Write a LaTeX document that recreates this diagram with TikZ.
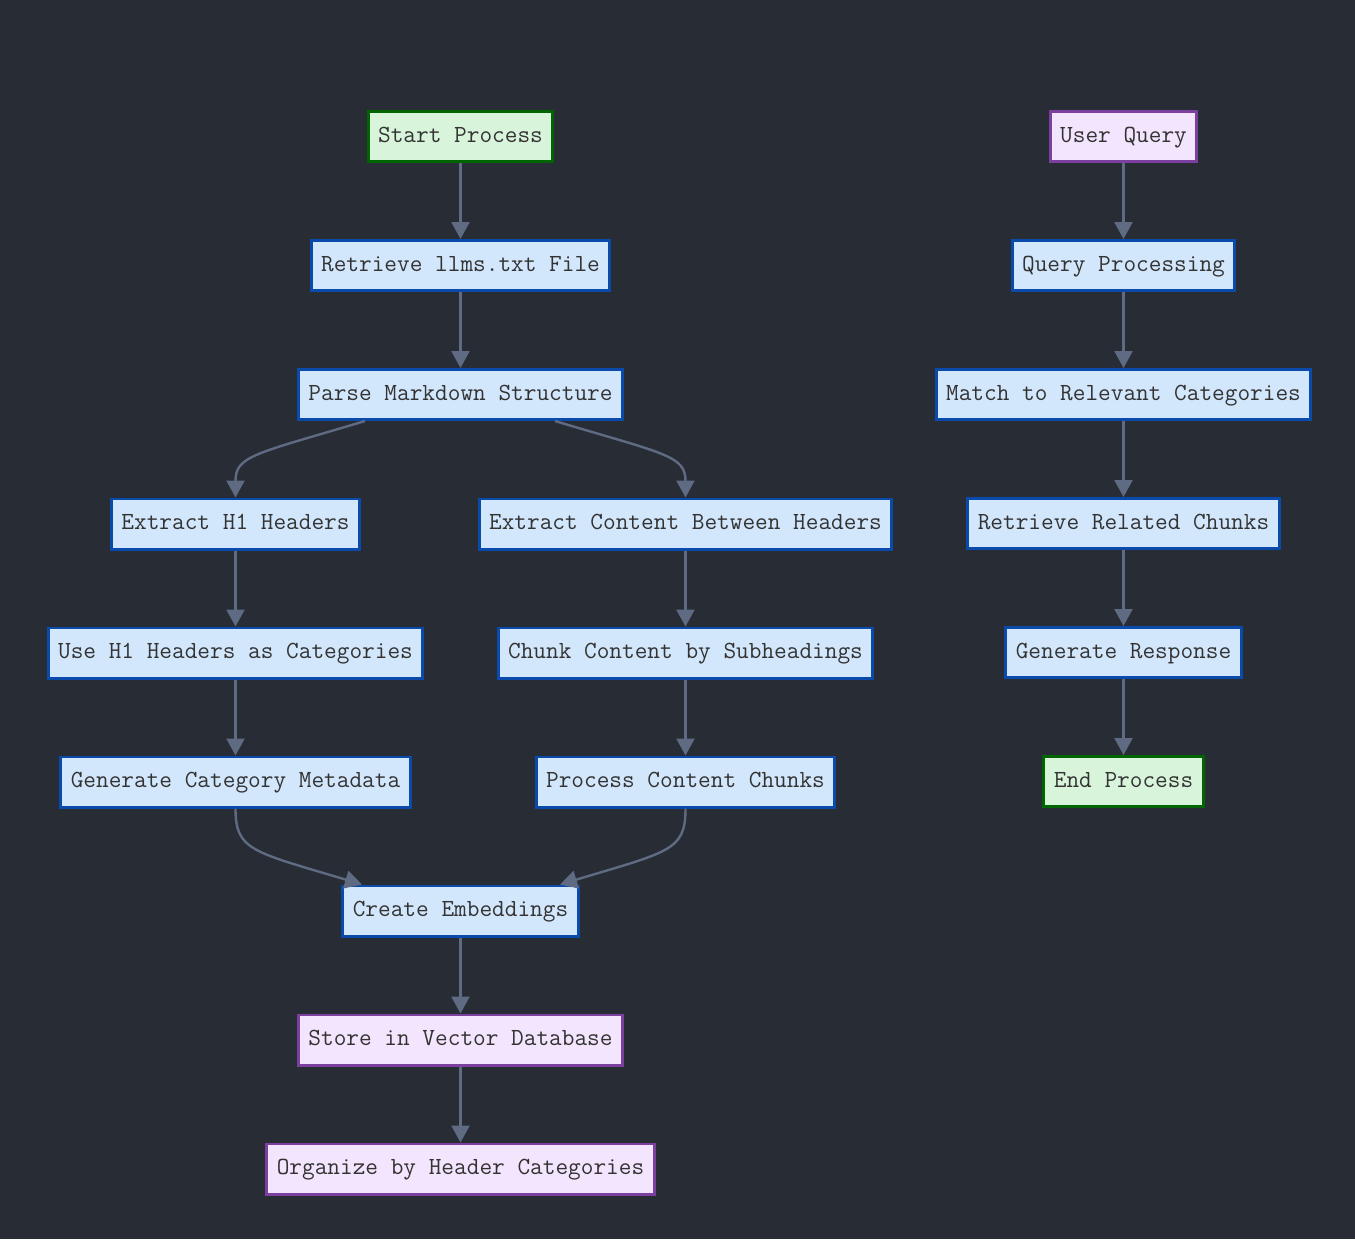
\documentclass[tikz,border=0pt]{standalone}
\usepackage{fontspec}
\usetikzlibrary{positioning,arrows.meta}
\definecolor{bgdark}{HTML}{282C34}
\definecolor{edgegray}{HTML}{5F6B82}
\definecolor{textgray}{HTML}{333333}
\definecolor{bluefill}{HTML}{D2E7FC}
\definecolor{blueline}{HTML}{0A4AAA}
\definecolor{greenfill}{HTML}{D8F5DC}
\definecolor{greenline}{HTML}{006400}
\definecolor{purplefill}{HTML}{F3E5FD}
\definecolor{purpleline}{HTML}{7B3FA0}
\tikzset{
  stepnode/.style={draw=blueline,fill=bluefill,line width=1.4pt,minimum height=25.1pt,
    inner xsep=5pt,text height=8.2pt,text depth=2.4pt,text=textgray,
    font=\ttfamily\fontsize{12.3pt}{14pt}\selectfont},
  termnode/.style={stepnode,draw=greenline,fill=greenfill},
  storenode/.style={stepnode,draw=purpleline,fill=purplefill},
  flow/.style={draw=edgegray,line width=1.2pt,-{Triangle[length=8.5pt,width=9pt]}}
}
\begin{document}
\begin{tikzpicture}[x=0.5pt,y=-0.5pt,node distance=38pt]
  \fill[bgdark] (0,0) rectangle (1355,1239);
  \node[termnode] (start) at (460.5,136.5) {Start Process};
  \node[stepnode,below=of start] (retrieve) {Retrieve llms.txt File};
  \node[stepnode,below=of retrieve] (parse) {Parse Markdown Structure};
  \node[stepnode] (exth1) at (235.5,524) {Extract H1 Headers};
  \node[stepnode] (extcont) at (685.5,524) {Extract Content Between Headers};
  \node[stepnode,below=of exth1] (useh1) {Use H1 Headers as Categories};
  \node[stepnode,below=of extcont] (chunk) {Chunk Content by Subheadings};
  \node[stepnode,below=of useh1] (genmeta) {Generate Category Metadata};
  \node[stepnode,below=of chunk] (proc) {Process Content Chunks};
  \node[stepnode] (embed) at (460.5,911) {Create Embeddings};
  \node[storenode,below=of embed] (store) {Store in Vector Database};
  \node[storenode,below=of store] (organize) {Organize by Header Categories};

  \node[storenode] (query) at (1123.5,136.5) {User Query};
  \node[stepnode,below=of query] (qproc) {Query Processing};
  \node[stepnode,below=of qproc] (match) {Match to Relevant Categories};
  \node[stepnode,below=of match] (related) {Retrieve Related Chunks};
  \node[stepnode,below=of related] (response) {Generate Response};
  \node[termnode,below=of response] (endp) {End Process};

  \draw[flow] (start) -- (retrieve);
  \draw[flow] (retrieve) -- (parse);
  \draw[flow] ([xshift=-47.75pt]parse.south) .. controls +(-110,33) and +(0,-42) .. (exth1.north);
  \draw[flow] ([xshift=47.25pt]parse.south) .. controls +(110,33) and +(0,-42) .. (extcont.north);
  \draw[flow] (exth1) -- (useh1);
  \draw[flow] (useh1) -- (genmeta);
  \draw[flow] (extcont) -- (chunk);
  \draw[flow] (chunk) -- (proc);
  \draw[flow] (genmeta.south) .. controls +(0,42) and +(-110,-33) .. ([xshift=-49.25pt]embed.north);
  \draw[flow] (proc.south) .. controls +(0,42) and +(110,-33) .. ([xshift=49.75pt]embed.north);
  \draw[flow] (embed) -- (store);
  \draw[flow] (store) -- (organize);

  \draw[flow] (query) -- (qproc);
  \draw[flow] (qproc) -- (match);
  \draw[flow] (match) -- (related);
  \draw[flow] (related) -- (response);
  \draw[flow] (response) -- (endp);
\end{tikzpicture}
\end{document}
